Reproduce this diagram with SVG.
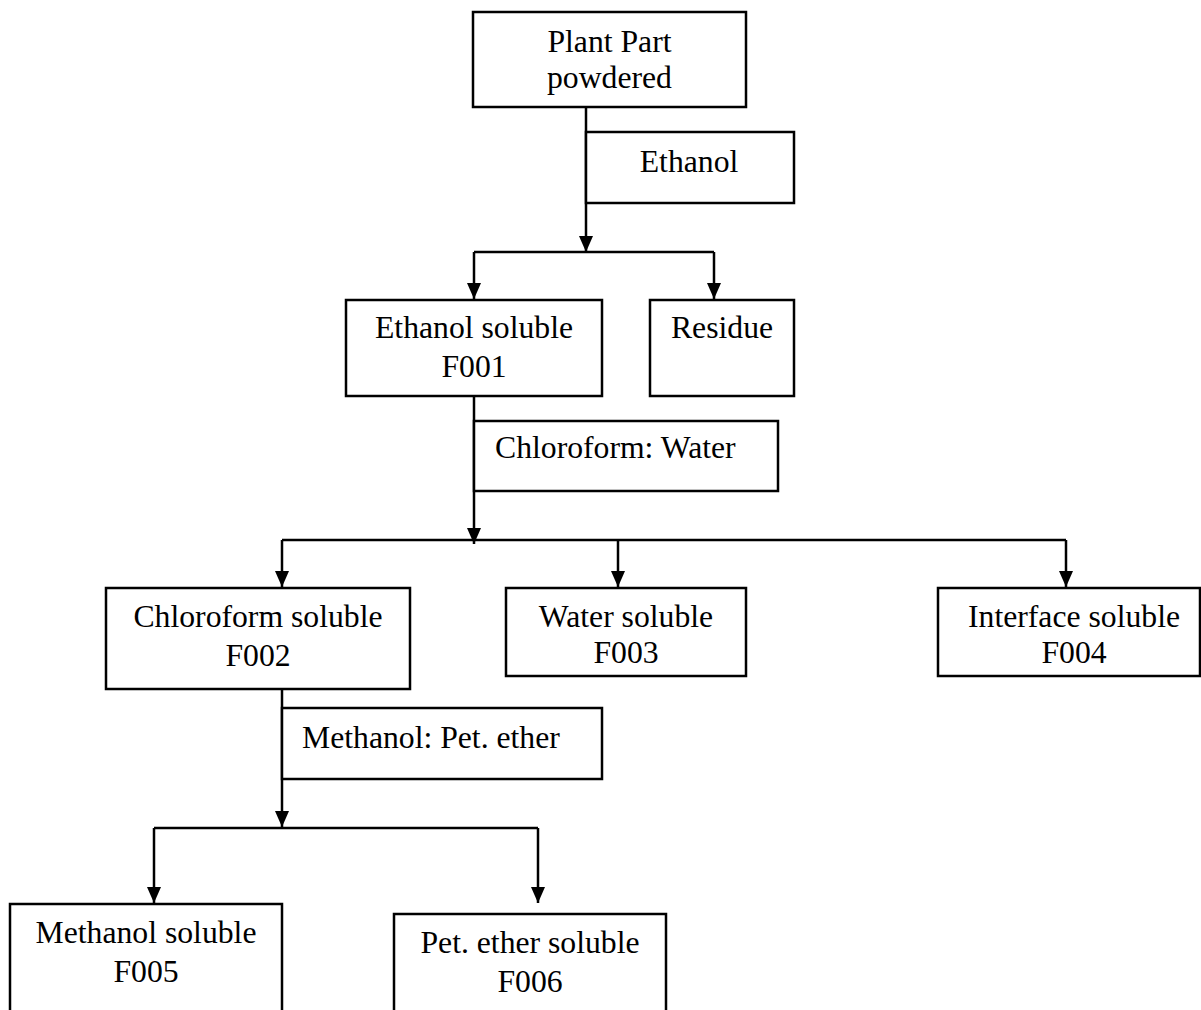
<svg xmlns="http://www.w3.org/2000/svg" width="1201" height="1010" viewBox="0 0 1201 1010">
<style>
.box{fill:#fff;stroke:#000;stroke-width:2.5}
.t{font-family:"Liberation Serif","Times New Roman",serif;font-size:31.7px;fill:#000}
.c{text-anchor:middle}
.ln{fill:none;stroke:#000;stroke-width:2.5}
</style>
<defs>
<marker id="ah" viewBox="0 0 16 14" refX="16" refY="7" markerWidth="16" markerHeight="14" markerUnits="userSpaceOnUse" orient="auto">
<path d="M0,0 L16,7 L0,14 Z" fill="#000"/>
</marker>
</defs>
<rect width="1201" height="1010" fill="#fff"/>
<g id="connectors">
<path class="ln" d="M586,107 V252" marker-end="url(#ah)"/>
<path class="ln" d="M474,252 H714"/>
<path class="ln" d="M474,252 V299" marker-end="url(#ah)"/>
<path class="ln" d="M714,252 V299" marker-end="url(#ah)"/>
<path class="ln" d="M474,396 V544" marker-end="url(#ah)"/>
<path class="ln" d="M282,540 H1066"/>
<path class="ln" d="M282,540 V587" marker-end="url(#ah)"/>
<path class="ln" d="M618,540 V587" marker-end="url(#ah)"/>
<path class="ln" d="M1066,540 V587" marker-end="url(#ah)"/>
<path class="ln" d="M282,689 V827" marker-end="url(#ah)"/>
<path class="ln" d="M154,828 H538"/>
<path class="ln" d="M154,828 V903" marker-end="url(#ah)"/>
<path class="ln" d="M538,828 V903" marker-end="url(#ah)"/>
</g>
<g id="plant">
<rect class="box" x="473" y="12" width="273" height="95"/>
<text class="t c" x="609.5" y="52">Plant Part</text>
<text class="t c" x="609.5" y="88">powdered</text>
</g>
<g id="ethanol-label">
<rect class="box" x="586" y="132" width="208" height="71"/>
<text class="t c" x="689" y="172">Ethanol</text>
</g>
<g id="f001">
<rect class="box" x="346" y="300" width="256" height="96"/>
<text class="t c" x="474" y="338">Ethanol soluble</text>
<text class="t c" x="474" y="377">F001</text>
</g>
<g id="residue">
<rect class="box" x="650" y="300" width="144" height="96"/>
<text class="t c" x="722" y="338">Residue</text>
</g>
<g id="chcl3-water-label">
<rect class="box" x="474" y="421" width="304" height="70"/>
<text class="t" x="495" y="458">Chloroform: Water</text>
</g>
<g id="f002">
<rect class="box" x="106" y="588" width="304" height="101"/>
<text class="t c" x="258" y="627">Chloroform soluble</text>
<text class="t c" x="258" y="666">F002</text>
</g>
<g id="f003">
<rect class="box" x="506" y="588" width="240" height="88"/>
<text class="t c" x="626" y="627">Water soluble</text>
<text class="t c" x="626" y="663">F003</text>
</g>
<g id="f004">
<rect class="box" x="938" y="588" width="262" height="88"/>
<text class="t c" x="1074" y="627">Interface soluble</text>
<text class="t c" x="1074" y="663">F004</text>
</g>
<g id="meoh-pe-label">
<rect class="box" x="282" y="708" width="320" height="71"/>
<text class="t" x="302" y="748">Methanol: Pet. ether</text>
</g>
<g id="f005">
<rect class="box" x="10" y="904" width="272" height="120"/>
<text class="t c" x="146" y="943">Methanol soluble</text>
<text class="t c" x="146" y="982">F005</text>
</g>
<g id="f006">
<rect class="box" x="394" y="914" width="272" height="110"/>
<text class="t c" x="530" y="953">Pet. ether soluble</text>
<text class="t c" x="530" y="992">F006</text>
</g>
</svg>
